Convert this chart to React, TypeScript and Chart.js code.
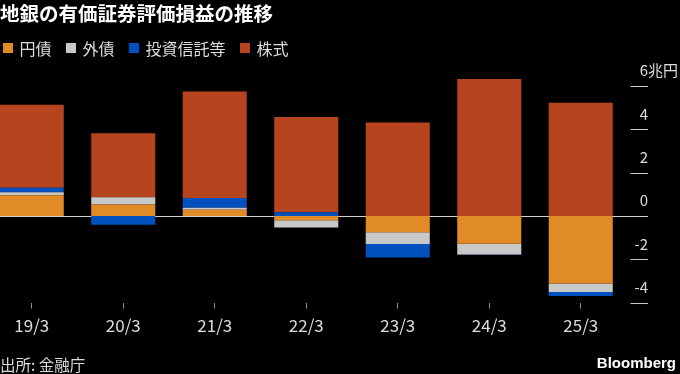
import React, { useEffect, useRef } from "react";
import { Chart, registerables } from "chart.js";

Chart.register(...registerables);

const categories = ["19/3", "20/3", "21/3", "22/3", "23/3", "24/3", "25/3"];
const yenBonds = [0.96, 0.53, 0.29, -0.2, -0.75, -1.28, -3.11];
const foreignBonds = [0.14, 0.34, 0.09, -0.33, -0.54, -0.49, -0.4];
const trusts = [0.2, -0.4, 0.45, 0.17, -0.62, -0.03, -0.18];
const stocks = [3.84, 2.95, 4.92, 4.4, 4.31, 6.32, 5.23];
const seriesNames = ["円債", "外債", "投資信託等", "株式"];
const seriesColors = ["#E08B26", "#C8C8C8", "#0050BE", "#B5441F"];
const yMin = -4;
const yMax = 6;
const yStep = 2;
const yUnit = "兆円";

const FONT = '"Noto Sans CJK JP", "Noto Sans", sans-serif';

const axisDecor = {
  id: "axisDecor",
  beforeDatasetsDraw(chart: any) {
    const { ctx, chartArea } = chart;
    const y = chart.scales.y;
    const zero = Math.round(y.getPixelForValue(0)) + 0.5;
    ctx.save();
    ctx.strokeStyle = "#d0d0d0";
    ctx.lineWidth = 1;
    ctx.beginPath();
    ctx.moveTo(chartArea.left, zero);
    ctx.lineTo(y.left + 21.5, zero);
    ctx.stroke();
    ctx.restore();
  },
  afterDraw(chart: any) {
    const { ctx } = chart;
    const y = chart.scales.y;
    const right = y.left + 21.5;
    ctx.save();
    ctx.strokeStyle = "#c8c8c8";
    ctx.lineWidth = 1;
    ctx.fillStyle = "#dddddd";
    ctx.font = `15px ${FONT}`;
    ctx.textBaseline = "middle";
    y.ticks.forEach((t: any) => {
      const v = t.value;
      const py = y.getPixelForValue(v);
      if (v !== 0) {
        const ly = Math.round(py) + 0.5;
        ctx.beginPath();
        ctx.moveTo(y.left + 4, ly);
        ctx.lineTo(right, ly);
        ctx.stroke();
      }
      ctx.textAlign = "right";
      ctx.fillText(String(v), right, py - 15.5);
      if (v === yMax) {
        ctx.textAlign = "left";
        ctx.fillText(yUnit, right, py - 15.5);
      }
    });
    ctx.restore();
  },
};

function ChartCanvas() {
  const ref = useRef<HTMLCanvasElement | null>(null);
  useEffect(() => {
    if (!ref.current) return;
    const values = [yenBonds, foreignBonds, trusts, stocks];
    const chart = new Chart(ref.current, {
      type: "bar",
      data: {
        labels: categories,
        datasets: values.map((d, i) => ({
          label: seriesNames[i],
          data: d,
          backgroundColor: seriesColors[i],
          borderWidth: 0,
          categoryPercentage: 0.7,
          barPercentage: 1,
          clip: false,
        })),
      },
      options: {
        animation: false,
        responsive: false,
        devicePixelRatio: 1,
        layout: { padding: { top: 86, left: 0, right: 0, bottom: 0 } },
        plugins: {
          legend: { display: false },
          title: { display: false },
          tooltip: { enabled: false },
        },
        scales: {
          x: {
            stacked: true,
            grid: {
              display: true,
              drawOnChartArea: false,
              drawTicks: true,
              tickLength: 6,
              color: "#8a8a8a",
              offset: false,
            },
            border: { display: false },
            ticks: {
              color: "#dddddd",
              font: { size: 17, family: FONT },
              padding: 7,
              maxRotation: 0,
              autoSkip: false,
            },
            afterFit(s: any) {
              s.height = 71.3;
            },
          },
          y: {
            stacked: true,
            position: "right",
            min: yMin,
            max: yMax,
            grid: { display: false, drawTicks: false },
            border: { display: false },
            ticks: {
              stepSize: yStep,
              display: false,
            },
            afterFit(s: any) {
              s.width = 59.5;
            },
          },
        },
      },
      plugins: [axisDecor],
    } as any);
    return () => chart.destroy();
  }, []);
  return (
    <canvas
      ref={ref}
      width={700}
      height={374}
      style={{ position: "absolute", left: -14, top: 0, width: 700, height: 374 }}
    />
  );
}

export default function App() {
  return (
    <div
      style={{
        position: "fixed",
        left: 0,
        top: 0,
        width: 680,
        height: 374,
        background: "#000",
        overflow: "hidden",
        fontFamily: FONT,
        color: "#fff",
      }}
    >
      <ChartCanvas />
      <div
        style={{
          position: "absolute",
          left: 0,
          top: 2.5,
          fontSize: 19.5,
          lineHeight: "20px",
          fontWeight: 700,
          color: "#ffffff",
          whiteSpace: "nowrap",
        }}
      >
        地銀の有価証券評価損益の推移
      </div>
      <div
        style={{
          position: "absolute",
          left: 3,
          top: 38,
          display: "flex",
          alignItems: "center",
          gap: 14.5,
          fontSize: 16,
          lineHeight: "20px",
          color: "#dddddd",
          whiteSpace: "nowrap",
        }}
      >
        {seriesNames.map((n, i) => (
          <div key={n} style={{ display: "flex", alignItems: "center" }}>
            <span
              style={{
                display: "inline-block",
                width: 10,
                height: 10,
                background: seriesColors[i],
                marginRight: 6.5,
              }}
            />
            <span>{n}</span>
          </div>
        ))}
      </div>
      <div
        style={{
          position: "absolute",
          left: 0,
          top: 354,
          fontSize: 15.5,
          lineHeight: "20px",
          color: "#dddddd",
          whiteSpace: "nowrap",
        }}
      >
        出所: 金融庁
      </div>
      <div
        style={{
          position: "absolute",
          right: 4,
          top: 353,
          fontSize: 15,
          lineHeight: "20px",
          fontWeight: 700,
          fontFamily: '"Liberation Sans", Arial, sans-serif',
          color: "#ffffff",
        }}
      >
        Bloomberg
      </div>
    </div>
  );
}
